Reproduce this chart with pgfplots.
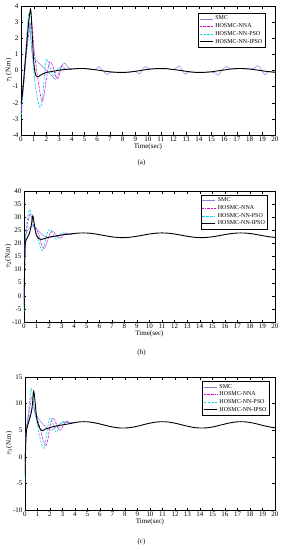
\documentclass[border=0pt]{standalone}
\usepackage{pgfplots}
\usepackage{pgfplotstable}
\pgfplotsset{compat=1.18}
\usepackage{fontspec}
\setmainfont{Liberation Serif}
\definecolor{csmc}{RGB}{130,130,230}
\definecolor{cnna}{RGB}{215,0,215}
\definecolor{cpso}{RGB}{0,215,225}
\pgfplotsset{
 myax/.style={scale only axis, xmin=0, xmax=20, xtick={0,...,20},
  tick align=inside, tick style={black, line width=0.3pt}, major tick length=2.5pt,
  axis line style={line width=0.4pt},
  every tick label/.append style={font=\fontsize{7}{8}\selectfont},
  /pgf/number format/assume math mode=true,
  xticklabel style={yshift=1.5pt}, yticklabel style={xshift=1pt},
  xlabel={Time(sec)}, xlabel style={font=\fontsize{7}{8}\selectfont, yshift=5pt},
  ylabel style={font=\fontsize{7}{8}\selectfont, yshift=-6pt},
  legend style={font=\fontsize{6}{6.5}\selectfont, anchor=north east,
   draw=black, line width=0.5pt, inner sep=0.8pt, row sep=-1.8pt, cells={anchor=west}},
  legend image code/.code={\draw[#1] (0pt,0pt) -- (13pt,0pt);},
 },
 smc/.style={csmc, line width=0.5pt, smooth, no markers},
 nna/.style={cnna, line width=0.6pt, smooth, no markers, dash pattern=on 2pt off 0.8pt on 0.6pt off 0.8pt},
 pso/.style={cpso, line width=0.6pt, smooth, no markers, dash pattern=on 2.5pt off 1.3pt},
 ipso/.style={black, line width=0.9pt, smooth, no markers},
}
\pgfplotstableread{
t y
4.0 0.09
4.5 0.12
5.0 0.12
5.5 0.08
6.0 0.03
6.5 -0.03
7.0 -0.08
7.5 -0.11
8.0 -0.12
8.5 -0.10
9.0 -0.05
9.5 0.01
10.0 0.07
10.5 0.11
11.0 0.12
11.5 0.11
12.0 0.06
12.5 0.01
13.0 -0.05
13.5 -0.10
14.0 -0.12
14.5 -0.11
15.0 -0.08
15.5 -0.02
16.0 0.03
16.5 0.09
17.0 0.12
17.5 0.12
18.0 0.09
18.5 0.04
19.0 -0.02
19.5 -0.07
20.0 -0.11
}\ssa
\pgfplotstableread{
t y
4.0 0.09
4.5 0.12
5.0 0.12
5.5 0.08
5.8 0.05
6.0 0.15
6.15 0.25
6.3 0.1
6.5 -0.03
6.65 -0.2
6.8 -0.25
7.0 -0.12
7.5 -0.11
8.0 -0.12
8.5 -0.1
9.0 -0.05
9.2 -0.15
9.35 -0.22
9.5 0.0
9.7 0.2
9.85 0.25
10.0 0.12
10.5 0.11
11.0 0.12
11.5 0.11
12.0 0.06
12.3 0.2
12.45 0.3
12.6 0.15
12.8 -0.1
12.95 -0.25
13.1 -0.1
13.5 -0.1
14.0 -0.12
14.5 -0.11
15.0 -0.08
15.4 -0.2
15.55 -0.3
15.75 -0.05
16.0 0.15
16.2 0.25
16.4 0.12
16.5 0.09
17.0 0.12
17.5 0.12
18.0 0.09
18.4 0.15
18.6 0.3
18.8 0.2
19.0 -0.05
19.2 -0.25
19.4 -0.15
19.5 -0.07
20.0 -0.11
}\ssasmc
\pgfplotstableread{
t y
4.0 23.78
4.5 23.98
5.0 23.96
5.5 23.74
6.0 23.35
6.5 22.91
7.0 22.51
7.5 22.26
8.0 22.21
8.5 22.38
9.0 22.73
9.5 23.17
10.0 23.59
10.5 23.89
11.0 24.00
11.5 23.89
12.0 23.58
12.5 23.16
13.0 22.72
13.5 22.38
14.0 22.21
14.5 22.26
15.0 22.52
15.5 22.91
16.0 23.36
16.5 23.74
17.0 23.96
17.5 23.98
18.0 23.78
18.5 23.41
19.0 22.97
19.5 22.56
20.0 22.28
}\ssb
\pgfplotstableread{
t y
4.0 6.45
4.5 6.59
5.0 6.58
5.5 6.42
6.0 6.17
6.5 5.87
7.0 5.61
7.5 5.44
8.0 5.41
8.5 5.52
9.0 5.75
9.5 6.05
10.0 6.33
10.5 6.53
11.0 6.60
11.5 6.53
12.0 6.32
12.5 6.04
13.0 5.75
13.5 5.52
14.0 5.41
14.5 5.44
15.0 5.61
15.5 5.88
16.0 6.17
16.5 6.43
17.0 6.58
17.5 6.59
18.0 6.45
18.5 6.21
19.0 5.91
19.5 5.64
20.0 5.45
}\ssc
\begin{document}
\begin{tikzpicture}
\useasboundingbox (0pt,0pt) rectangle (283pt,-550pt);
% ---------- (a)
\begin{axis}[myax, at={(21pt,-6pt)}, anchor=north west, width=254pt, height=129pt,
  ymin=-4, ymax=4, ytick={-4,...,4}, ylabel={$\tau_1$(N.m)},
  legend style={at={(0.962,0.946)}}]
\addplot[smc] coordinates {(0,-2.4) (0.2,-0.8) (0.4,1.0) (0.55,2.4) (0.65,2.9) (0.75,2.2) (0.85,1.2) (1.0,0.8) (1.3,0.55) (1.6,0.3) (2.0,0.0) (2.4,-0.3) (2.7,-0.55) (2.9,-0.3) (3.1,0.1) (3.3,0.4) (3.45,0.45) (3.6,0.3) (3.8,0.12) (4,0.09)};
\addlegendentry{SMC}
\addplot[nna] coordinates {(0,-2.6) (0.2,-1.0) (0.4,0.8) (0.6,2.2) (0.8,3.0) (0.9,2.6) (1.0,1.5) (1.2,0.2) (1.4,-0.9) (1.6,-1.8) (1.7,-1.9) (1.8,-1.6) (2.0,-0.5) (2.2,0.4) (2.3,0.55) (2.5,0.3) (2.7,-0.3) (2.9,-0.5) (3.05,-0.2) (3.2,0.3) (3.4,0.15) (3.7,0.05) (4,0.09)};
\addlegendentry{HOSMC-NNA}
\addplot[pso] coordinates {(0,-3.0) (0.15,-1.5) (0.3,0.3) (0.45,2.2) (0.6,3.5) (0.7,3.0) (0.8,1.8) (1.0,0.0) (1.2,-1.3) (1.4,-2.1) (1.55,-2.3) (1.7,-1.6) (1.85,-0.3) (2.0,0.7) (2.2,0.4) (2.4,-0.1) (2.6,-0.3) (2.8,0.0) (3.0,0.2) (3.3,0.1) (3.7,0.05) (4,0.09)};
\addlegendentry{HOSMC-NN-PSO}
\addplot[ipso] coordinates {(0,-2.1) (0.1,-1.5) (0.2,-0.7) (0.3,0.3) (0.4,1.2) (0.5,2.1) (0.6,3.0) (0.7,3.6) (0.75,3.8) (0.8,3.5) (0.9,2.0) (1.0,0.6) (1.1,-0.1) (1.2,-0.35) (1.35,-0.4) (1.5,-0.3) (1.75,-0.2) (2,-0.12) (2.5,-0.05) (3,0.02) (3.5,0.07) (4,0.09)};
\addlegendentry{HOSMC-NN-IPSO}
\addplot[smc, forget plot] table[x=t,y=y] {\ssasmc};
\addplot[ipso, forget plot] table[x=t,y=y] {\ssa};
\end{axis}
\node[font=\fontsize{7}{8}\selectfont] at (141.5pt,-163pt) {(a)};
% ---------- (b)
\begin{axis}[myax, at={(24pt,-191pt)}, anchor=north west, width=251pt, height=131pt,
  ymin=-10, ymax=40, ytick={-10,-5,...,40}, ylabel={$\tau_2$(N.m)},
  legend style={at={(0.972,0.97)}}]
\addplot[smc] coordinates {(0,-1) (0.05,12) (0.1,22) (0.3,25) (0.55,26.5) (0.8,26.5) (1.0,25.5) (1.3,24) (1.6,22.8) (2.0,22.3) (2.4,22.5) (2.8,23) (3.2,23.6) (3.6,23.5) (4,23.78)};
\addlegendentry{SMC}
\addplot[nna] coordinates {(0,-3) (0.05,10) (0.1,20) (0.2,25) (0.35,29) (0.5,31.3) (0.6,30) (0.75,27) (1.0,25.5) (1.2,23) (1.4,19.5) (1.6,18) (1.8,20) (2.0,23) (2.2,24.8) (2.4,24.2) (2.6,22.8) (2.9,22) (3.1,23) (3.3,24) (3.6,23.4) (4,23.78)};
\addlegendentry{HOSMC-NNA}
\addplot[pso] coordinates {(0,-6) (0.04,5) (0.08,15) (0.15,24) (0.3,30) (0.45,33) (0.55,31) (0.7,27) (0.9,25) (1.1,22) (1.3,18.5) (1.45,17.2) (1.6,19) (1.8,23) (2.0,25.2) (2.2,24.5) (2.4,22.5) (2.6,21.5) (2.8,22.8) (3.0,24.0) (3.3,23.8) (3.6,23.4) (4,23.78)};
\addlegendentry{HOSMC-NN-PSO}
\addplot[ipso] coordinates {(0,-4) (0.03,5) (0.06,14) (0.1,20) (0.2,21.5) (0.3,22.5) (0.4,23.5) (0.5,25) (0.6,27.5) (0.7,30.5) (0.8,28) (0.9,25) (1.0,23) (1.2,21.8) (1.4,21.5) (1.6,21.8) (2.0,22.4) (2.5,22.8) (3.0,23.2) (3.5,23.5) (4.0,23.78)};
\addlegendentry{HOSMC-NN-IPSO}
\addplot[ipso, forget plot] table[x=t,y=y] {\ssb};
\end{axis}
\node[font=\fontsize{7}{8}\selectfont] at (141.5pt,-353pt) {(b)};
% ---------- (c)
\begin{axis}[myax, at={(25pt,-377pt)}, anchor=north west, width=250pt, height=133pt,
  ymin=-10, ymax=15, ytick={-10,-5,...,15}, ylabel={$\tau_3$(N.m)},
  legend style={at={(0.978,0.97)}}]
\addplot[smc] coordinates {(0,-1) (0.05,3) (0.12,5.5) (0.3,7) (0.55,9) (0.7,9.2) (0.9,8) (1.2,6.8) (1.5,6) (1.8,5.3) (2.1,5.0) (2.5,5.6) (2.9,6.3) (3.3,6.6) (3.7,6.3) (4,6.45)};
\addlegendentry{SMC}
\addplot[nna] coordinates {(0,-2) (0.05,3) (0.15,6) (0.3,8) (0.45,10.3) (0.55,11.3) (0.65,10.5) (0.8,8.5) (1.0,7) (1.2,5.5) (1.4,3.5) (1.6,2.3) (1.7,2.2) (1.85,3.5) (2.0,5.8) (2.2,7.2) (2.4,6.8) (2.6,5.6) (2.85,5.0) (3.05,5.9) (3.3,6.7) (3.6,6.4) (4,6.45)};
\addlegendentry{HOSMC-NNA}
\addplot[pso] coordinates {(0,-5) (0.03,-1) (0.07,3) (0.15,6) (0.3,9) (0.5,12.8) (0.6,11.5) (0.75,8.5) (0.95,6.5) (1.15,4) (1.35,2.2) (1.5,1.6) (1.65,3) (1.85,6) (2.0,7.3) (2.2,6.5) (2.4,5) (2.55,4.6) (2.75,5.8) (2.95,6.7) (3.2,6.5) (3.6,6.3) (4,6.45)};
\addlegendentry{HOSMC-NN-PSO}
\addplot[ipso] coordinates {(0,-3.5) (0.03,0) (0.07,3) (0.12,5) (0.2,5.8) (0.35,7) (0.5,8.3) (0.6,10) (0.7,12.3) (0.8,10.5) (0.9,8) (1.0,6.5) (1.2,5.3) (1.4,4.9) (1.6,5.2) (2.0,5.5) (2.5,5.8) (3.0,6.0) (3.5,6.2) (4,6.45)};
\addlegendentry{HOSMC-NN-IPSO}
\addplot[ipso, forget plot] table[x=t,y=y] {\ssc};
\end{axis}
\node[font=\fontsize{7}{8}\selectfont] at (141.5pt,-542pt) {(c)};
\end{tikzpicture}
\end{document}
